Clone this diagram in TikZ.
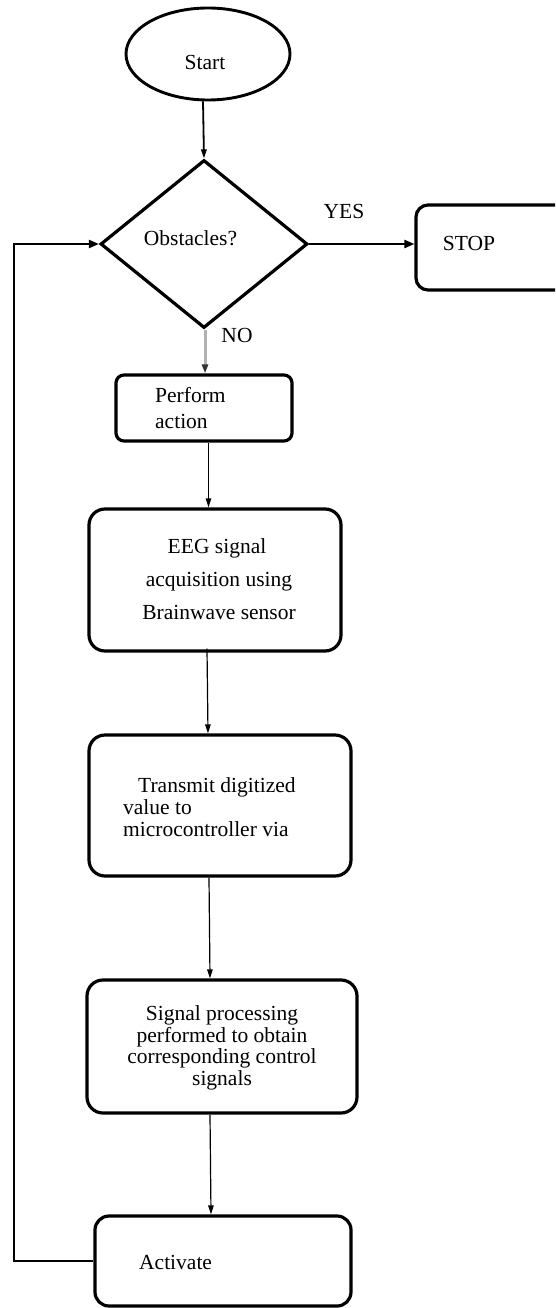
\documentclass[tikz,border=0pt]{standalone}
\usepackage{fontspec}
\setmainfont{Liberation Serif}
\usetikzlibrary{shapes.geometric,arrows.meta}

\tikzset{
  txt/.style={font=\fontsize{21.5}{22}\selectfont, inner sep=0pt, anchor=base},
  txtl/.style={txt, anchor=base west},
  stepbox/.style={draw, line width=3.2pt, rectangle, rounded corners=#1, inner sep=0pt},
  stepbox/.default=14pt,
  flow/.style={draw, line width=1.2pt, -{Triangle[length=9pt,width=5.5pt]}},
  flowthick/.style={draw, line width=2.2pt, -{Triangle[length=10pt,width=8pt]}},
  noflow/.style={draw=gray!60, line width=3pt, -{Triangle[length=9pt,width=6pt,color=black!80,fill=black!80]}},
}

\begin{document}
\begin{tikzpicture}[x=1pt, y=-1pt]
  \useasboundingbox (0,0) rectangle (555,1308);
  \fill[white] (0,0) rectangle (555,1308);
  \clip (0,0) rectangle (555,1308);

  % shapes
  \node[draw, ellipse, line width=2.9pt, minimum width=164pt, minimum height=92pt, inner sep=0pt] (start) at (208,54) {};
  \node[draw, diamond, line width=3.2pt, minimum width=207pt, minimum height=168pt, inner sep=0pt] (dia) at (204,244) {};
  \node[stepbox=12pt, minimum width=160pt, minimum height=85pt] (stop) at (496,247.5) {};
  \node[stepbox=8pt, minimum width=176pt, minimum height=66pt] (perform) at (204,408) {};
  \node[stepbox=16pt, minimum width=252pt, minimum height=142pt] (eeg) at (215,580) {};
  \node[stepbox=16pt, minimum width=262pt, minimum height=141pt] (tx) at (220,805.5) {};
  \node[stepbox=16pt, minimum width=270pt, minimum height=133pt] (sig) at (222,1046.5) {};
  \node[stepbox=14pt, minimum width=256pt, minimum height=90pt] (act) at (223,1261) {};

  % texts
  \node[txt] (tstart) at (205,70) {Start};
  \node[txt] (tobs) at (190.5,245) {Obstacles?};
  \node[txt] (tyes) at (344,218) {YES};
  \node[txt] (tno) at (237,342) {NO};
  \node[txt] (tstop) at (469,250) {STOP};
  \node[txtl] (tperf1) at (155,402) {Perform};
  \node[txtl] (tperf2) at (155,428) {action};
  \node[txt] (teeg1) at (217,553) {EEG signal};
  \node[txt] (teeg2) at (219,586) {acquisition using};
  \node[txt] (teeg3) at (219,619) {Brainwave sensor};
  \node[txtl] (ttx1) at (138,792) {Transmit digitized};
  \node[txtl] (ttx2) at (123,814) {value to};
  \node[txtl] (ttx3) at (123,836) {microcontroller via};
  \node[txt] (tsig1) at (222,1020) {Signal processing};
  \node[txt] (tsig2) at (222,1042) {performed to obtain};
  \node[txt] (tsig3) at (222,1063) {corresponding control};
  \node[txt] (tsig4) at (222,1085) {signals};
  \node[txtl] (tact) at (139,1269) {Activate};

  % connectors
  \draw[flow, line width=1.8pt] ([xshift=-5pt]start.south) -- (dia.north);
  \draw[flowthick] (dia.east) -- (dia.east -| stop.west);
  \draw[noflow] ([xshift=1pt]dia.south) -- ([xshift=1pt]perform.north);
  \draw[flow] ([xshift=4.5pt]perform.south) -- ([xshift=-6.5pt]eeg.north);
  \draw[flow] ([xshift=-8pt,yshift=4pt]eeg.south) -- ([xshift=-12pt]tx.north);
  \draw[flow] ([xshift=-11pt]tx.south) -- ([xshift=-12pt]sig.north);
  \draw[flow] ([xshift=-12pt]sig.south) -- ([xshift=-12pt]act.north);

  \coordinate (loopcorner) at (14,1261);
  \draw[flowthick] (act.west) -- (loopcorner) |- (dia.west);
\end{tikzpicture}
\end{document}
